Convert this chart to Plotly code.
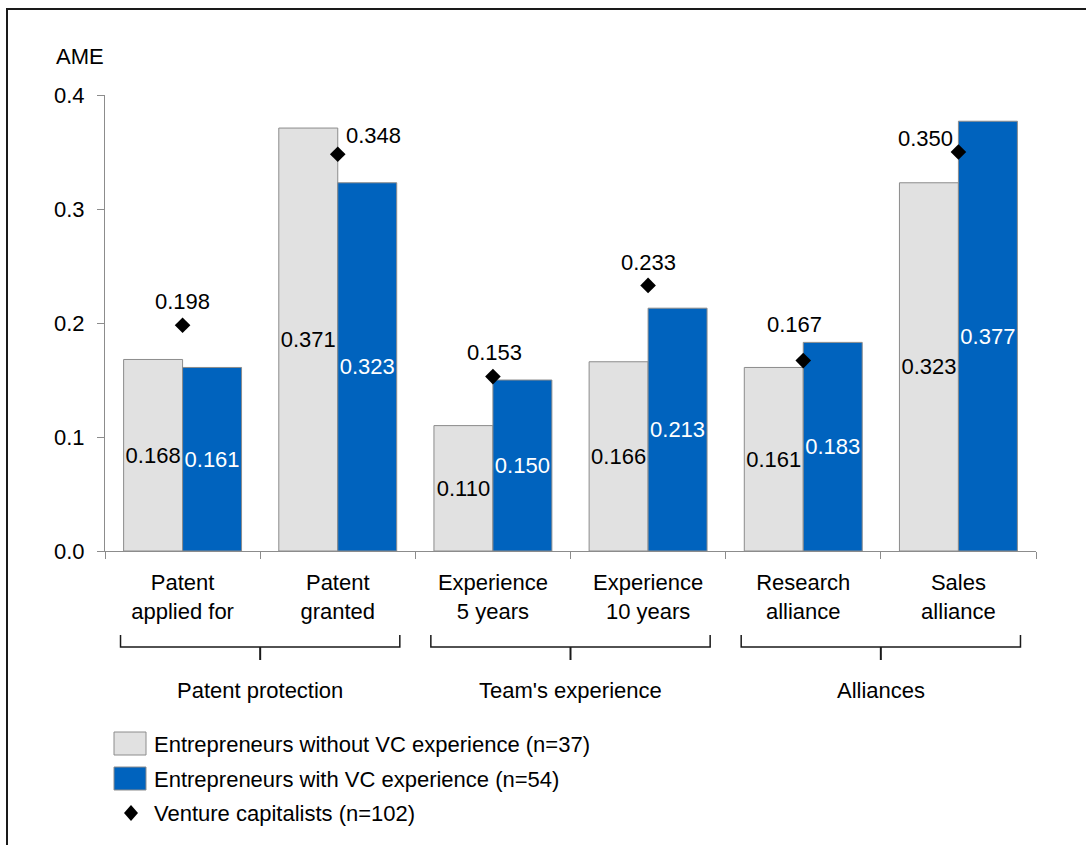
import plotly.graph_objects as go

# ---- data ----
categories = ["Patent applied for", "Patent granted", "Experience 5 years",
              "Experience 10 years", "Research alliance", "Sales alliance"]
tick_labels = ["Patent<br>applied for", "Patent<br>granted", "Experience<br>5 years",
               "Experience<br>10 years", "Research<br>alliance", "Sales<br>alliance"]
without_vc = [0.168, 0.371, 0.110, 0.166, 0.161, 0.323]
with_vc = [0.161, 0.323, 0.150, 0.213, 0.183, 0.377]
venture_capitalists = [0.198, 0.348, 0.153, 0.233, 0.167, 0.350]
groups = ["Patent protection", "Team's experience", "Alliances"]
legend_names = ["Entrepreneurs without VC experience (n=37)",
                "Entrepreneurs with VC experience (n=54)",
                "Venture capitalists (n=102)"]
y_ticks = [0.0, 0.1, 0.2, 0.3, 0.4]

# ---- style ----
FONT = "Liberation Sans, Arial, sans-serif"
FS = 22
GRAY = "#e1e1e1"
BLUE = "#0063be"
EDGE = "#8c8c8c"
AXIS = "#8c8c8c"
# pixel offsets of the diamond labels relative to their markers
label_dx = [0, 36, 2, 0, -9, -33]
label_dy = [24, 19, 24, 23, 36, 14]

W, H = 1086, 845
L, R, T, B = 105, 50, 95, 294
PW, PH = W - L - R, H - T - B


def px_x(p):
    return (p - L) / PW


def px_y(p):
    return (H - B - p) / PH


fig = go.Figure()

fig.add_trace(go.Bar(
    x=categories, y=without_vc, name=legend_names[0],
    marker=dict(color=GRAY, line=dict(color=EDGE, width=1)),
    text=[f"{v:.3f}" for v in without_vc], textposition="inside",
    insidetextanchor="middle", textangle=0,
    textfont=dict(family=FONT, size=FS, color="black"),
    showlegend=False, cliponaxis=False,
))
fig.add_trace(go.Bar(
    x=categories, y=with_vc, name=legend_names[1],
    marker=dict(color=BLUE, line=dict(color=EDGE, width=1)),
    text=[f"{v:.3f}" for v in with_vc], textposition="inside",
    insidetextanchor="middle", textangle=0,
    textfont=dict(family=FONT, size=FS, color="white"),
    showlegend=False, cliponaxis=False,
))
fig.add_trace(go.Scatter(
    x=categories, y=venture_capitalists, name=legend_names[2],
    mode="markers",
    marker=dict(symbol="diamond", size=12, color="black"),
    showlegend=False, cliponaxis=False,
))

shapes = []
annotations = []

# diamond value labels
for cat, v, dx, dy in zip(categories, venture_capitalists, label_dx, label_dy):
    annotations.append(dict(x=cat, y=v, xref="x", yref="y", text=f"{v:.3f}",
                            showarrow=False, xanchor="center", yanchor="middle",
                            xshift=dx, yshift=dy,
                            font=dict(family=FONT, size=FS, color="black")))

# outer frame
shapes.append(dict(type="rect", xref="paper", yref="paper",
                   x0=px_x(7), x1=px_x(W + 10), y0=px_y(H + 10), y1=px_y(9),
                   line=dict(color="#1a1a1a", width=2), layer="below"))

# group brackets
for g, name in enumerate(groups):
    a, b = 2 * g - 0.4, 2 * g + 1.4
    c = 2 * g + 0.5
    yh, ye, yt = px_y(647), px_y(635), px_y(660)
    shapes.append(dict(type="path", xref="x", yref="paper",
                       path=f"M {a},{ye} L {a},{yh} L {b},{yh} L {b},{ye}",
                       line=dict(color="#1a1a1a", width=1.5)))
    shapes.append(dict(type="line", xref="x", yref="paper",
                       x0=c, x1=c, y0=yh, y1=yt,
                       line=dict(color="#1a1a1a", width=2)))
    annotations.append(dict(x=c, xref="x", y=px_y(690), yref="paper",
                            text=name, showarrow=False, xanchor="center",
                            yanchor="middle",
                            font=dict(family=FONT, size=FS, color="black")))

# y axis title
annotations.append(dict(x=px_x(54), y=px_y(56), xref="paper", yref="paper",
                        text="AME", showarrow=False, xanchor="left",
                        yanchor="middle",
                        font=dict(family=FONT, size=FS, color="black")))

# manual legend
legend_rows = [744, 779, 813]
shapes.append(dict(type="rect", xref="paper", yref="paper",
                   x0=px_x(114), x1=px_x(146), y0=px_y(755), y1=px_y(732),
                   fillcolor=GRAY, line=dict(color=EDGE, width=1)))
shapes.append(dict(type="rect", xref="paper", yref="paper",
                   x0=px_x(114), x1=px_x(146), y0=px_y(790), y1=px_y(767),
                   fillcolor=BLUE, line=dict(color=EDGE, width=1)))
cx, cy, hw, hh = 131, 813, 7, 8
shapes.append(dict(type="path", xref="paper", yref="paper",
                   path=(f"M {px_x(cx - hw)},{px_y(cy)} L {px_x(cx)},{px_y(cy - hh)} "
                         f"L {px_x(cx + hw)},{px_y(cy)} L {px_x(cx)},{px_y(cy + hh)} Z"),
                   fillcolor="black", line=dict(color="black", width=0)))
for name, yy in zip(legend_names, legend_rows):
    annotations.append(dict(x=px_x(152), y=px_y(yy), xref="paper", yref="paper",
                            text=name, showarrow=False, xanchor="left",
                            yanchor="middle",
                            font=dict(family=FONT, size=FS, color="black")))

fig.update_layout(
    width=W, height=H,
    margin=dict(l=L, r=R, t=T, b=B),
    paper_bgcolor="white", plot_bgcolor="white",
    barmode="group", bargap=0.24, bargroupgap=0,
    font=dict(family=FONT, size=FS, color="black"),
    uniformtext=dict(minsize=FS, mode="show"),
    shapes=shapes, annotations=annotations,
    showlegend=False,
)
fig.update_xaxes(
    type="category", categoryorder="array", categoryarray=categories,
    tickmode="array", tickvals=categories, ticktext=tick_labels,
    tickson="boundaries", ticks="outside", ticklen=7, tickcolor=AXIS,
    showline=True, linecolor=AXIS, linewidth=1, showgrid=False,
    range=[-0.5, 5.5], tickfont=dict(family=FONT, size=FS, color="black"),
    ticklabelstandoff=12,
)
fig.update_yaxes(
    range=[0, 0.4], tickmode="array", tickvals=y_ticks,
    tickformat=".1f", ticks="outside", ticklen=7, tickcolor=AXIS,
    showline=True, linecolor=AXIS, linewidth=1, showgrid=False,
    zeroline=False, tickfont=dict(family=FONT, size=FS, color="black"),
    ticklabelstandoff=8,
)

fig.write_html("out.html")
